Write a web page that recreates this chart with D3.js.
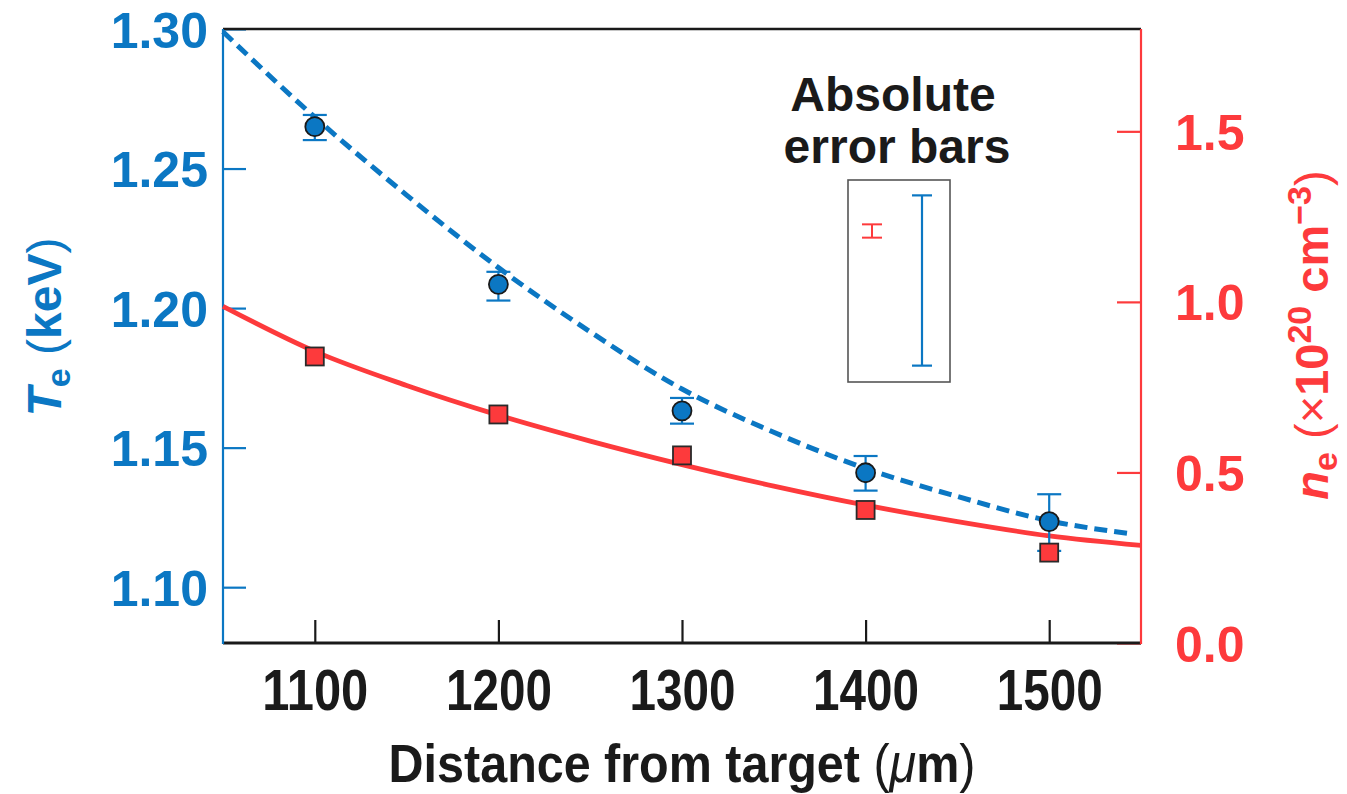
<!DOCTYPE html>
<html>
<head>
<meta charset="utf-8">
<script src="https://cdn.jsdelivr.net/npm/d3@7"></script>
<style>
  html, body { margin: 0; padding: 0; background: #fff; }
  svg { display: block; }
  text { font-family: "Liberation Sans", Arial, Helvetica, sans-serif; font-weight: bold; }
</style>
</head>
<body>
<svg id="chart" width="1347" height="794"></svg>
<script>
// Measured points at each distance from the target (µm)
const distances = [1100, 1200, 1300, 1400, 1500];
// Electron temperature Te (keV) with its error-bar ends
const teValues   = [1.265, 1.2085, 1.1632, 1.1410, 1.1235];
const teErrLow   = [1.2602, 1.2027, 1.1586, 1.1346, 1.1130];
const teErrHigh  = [1.2692, 1.2130, 1.1678, 1.1470, 1.1333];
// Electron density ne (×10^20 cm^-3)
const neValues   = [0.84, 0.67, 0.55, 0.39, 0.265];

// Fitted trends
const teFitDistances = [1050, 1100, 1150, 1200, 1250, 1300, 1350, 1400, 1450, 1500, 1546];
const teFit          = [1.299, 1.2684, 1.2405, 1.2145, 1.1915, 1.171, 1.1555, 1.1425, 1.1325, 1.1238, 1.1190];
const neFitDistances = [1050, 1100, 1150, 1200, 1250, 1300, 1350, 1400, 1450, 1500, 1550];
const neFit          = [0.987, 0.855, 0.755, 0.668, 0.592, 0.523, 0.46, 0.404, 0.356, 0.314, 0.286];

// Axis ticks
const xTicks  = [1100, 1200, 1300, 1400, 1500];
const teTicks = [1.10, 1.15, 1.20, 1.25, 1.30];
const neTicks = [0.0, 0.5, 1.0, 1.5];

// Absolute error bar sizes shown in the inset (half-widths)
const teAbsError = 0.0305;
const neAbsError = 0.0195;

const BLUE = "#0b77c3";
const RED = "#fd3a3c";

const svg = d3.select("#chart");
const plotLeft = 223, plotRight = 1141, plotTop = 29, plotBottom = 643;

const x = d3.scaleLinear().domain([1050, 1550]).range([plotLeft, plotRight]);
const yTe = d3.scaleLinear().domain([1.08, 1.30]).range([plotBottom, plotTop]);
const yNe = d3.scaleLinear().domain([0, 1.8]).range([plotBottom, plotTop]);

// Squeeze a text element horizontally to a target width (condensed look)
function condense(node, width) {
  const w = node.getComputedTextLength();
  if (w > 0) d3.select(node).attr("transform", `scale(${width / w},1)`);
}

// Axes with inward ticks
const gLeft = svg.append("g").attr("transform", `translate(${plotLeft},0)`)
  .call(d3.axisLeft(yTe).tickValues(teTicks).tickSize(-23).tickPadding(15).tickFormat(d3.format(".2f")));
gLeft.select(".domain").remove();
gLeft.selectAll(".tick line").attr("stroke", BLUE).attr("stroke-width", 2.2);
gLeft.selectAll(".tick text").attr("fill", BLUE).style("font-size", "50px").attr("dy", "0.36em");

const gRight = svg.append("g").attr("transform", `translate(${plotRight},0)`)
  .call(d3.axisRight(yNe).tickValues(neTicks).tickSize(-24).tickPadding(34).tickFormat(d3.format(".1f")));
gRight.select(".domain").remove();
gRight.selectAll(".tick line").attr("stroke", RED).attr("stroke-width", 2.2);
gRight.selectAll(".tick text").attr("fill", RED).style("font-size", "50px").attr("dy", "0.36em");

const gBottom = svg.append("g").attr("transform", `translate(0,${plotBottom})`)
  .call(d3.axisBottom(x).tickValues(xTicks).tickSize(-23).tickPadding(26).tickFormat(d3.format("d")));
gBottom.select(".domain").remove();
gBottom.selectAll(".tick line").attr("stroke", "#1a1a1a").attr("stroke-width", 2.2);
gBottom.selectAll(".tick text").attr("fill", "#1a1a1a").style("font-size", "58px")
  .each(function () { condense(this, 106); });

// Frame: black top/bottom, coloured side axes
svg.append("line").attr("x1", plotLeft).attr("x2", plotRight).attr("y1", plotTop).attr("y2", plotTop)
  .attr("stroke", "#1a1a1a").attr("stroke-width", 2.5);
svg.append("line").attr("x1", plotLeft).attr("x2", plotRight).attr("y1", plotBottom).attr("y2", plotBottom)
  .attr("stroke", "#1a1a1a").attr("stroke-width", 3);
svg.append("line").attr("x1", plotLeft).attr("x2", plotLeft).attr("y1", plotTop).attr("y2", plotBottom + 1)
  .attr("stroke", BLUE).attr("stroke-width", 2.2);
svg.append("line").attr("x1", plotRight).attr("x2", plotRight).attr("y1", plotTop).attr("y2", plotBottom + 1)
  .attr("stroke", RED).attr("stroke-width", 2.2);

// Fit curves
const teLine = d3.line().x((d, i) => x(teFitDistances[i])).y(d => yTe(d)).curve(d3.curveMonotoneX);
const neLine = d3.line().x((d, i) => x(neFitDistances[i])).y(d => yNe(d)).curve(d3.curveMonotoneX);

svg.append("path").attr("d", neLine(neFit))
  .attr("fill", "none").attr("stroke", RED).attr("stroke-width", 4.8);
svg.append("path").attr("d", teLine(teFit))
  .attr("fill", "none").attr("stroke", BLUE).attr("stroke-width", 5)
  .attr("stroke-dasharray", "13,7");

// Te error bars
const capHalf = 12;
const eb = svg.append("g").attr("stroke", BLUE).attr("stroke-width", 2.2);
distances.forEach((d, i) => {
  const cx = x(d);
  eb.append("line").attr("x1", cx).attr("x2", cx).attr("y1", yTe(teErrLow[i])).attr("y2", yTe(teErrHigh[i]));
  eb.append("line").attr("x1", cx - capHalf).attr("x2", cx + capHalf).attr("y1", yTe(teErrLow[i])).attr("y2", yTe(teErrLow[i]));
  eb.append("line").attr("x1", cx - capHalf).attr("x2", cx + capHalf).attr("y1", yTe(teErrHigh[i])).attr("y2", yTe(teErrHigh[i]));
});

// ne squares
const sq = 18;
svg.append("g").selectAll("rect").data(neValues).join("rect")
  .attr("x", (d, i) => x(distances[i]) - sq / 2)
  .attr("y", d => yNe(d) - sq / 2)
  .attr("width", sq).attr("height", sq)
  .attr("fill", RED).attr("stroke", "#2a2a2a").attr("stroke-width", 1.8);

// Te circles
svg.append("g").selectAll("circle").data(teValues).join("circle")
  .attr("cx", (d, i) => x(distances[i]))
  .attr("cy", d => yTe(d))
  .attr("r", 9.5)
  .attr("fill", BLUE).attr("stroke", "#1a1a1a").attr("stroke-width", 1.8);

// Inset with absolute error bars
const inset = svg.append("g");
inset.append("text").attr("x", 893).attr("y", 111).attr("text-anchor", "middle")
  .attr("fill", "#1a1a1a").style("font-size", "48px").text("Absolute");
inset.append("text").attr("x", 897).attr("y", 163).attr("text-anchor", "middle")
  .attr("fill", "#1a1a1a").style("font-size", "48px").text("error bars");
inset.append("rect").attr("x", 848).attr("y", 180).attr("width", 102).attr("height", 202)
  .attr("fill", "none").attr("stroke", "#555").attr("stroke-width", 1.6);

function insetBar(cx, cy, halfPx, color, width) {
  const g = inset.append("g").attr("stroke", color).attr("stroke-width", width);
  g.append("line").attr("x1", cx).attr("x2", cx).attr("y1", cy - halfPx).attr("y2", cy + halfPx);
  g.append("line").attr("x1", cx - 10).attr("x2", cx + 10).attr("y1", cy - halfPx).attr("y2", cy - halfPx);
  g.append("line").attr("x1", cx - 10).attr("x2", cx + 10).attr("y1", cy + halfPx).attr("y2", cy + halfPx);
}
insetBar(922, 280.5, yTe(1.2) - yTe(1.2 + teAbsError), BLUE, 2.2);
insetBar(872, 231, yNe(1.0) - yNe(1.0 + neAbsError), RED, 2);

// Axis titles
const teTitle = svg.append("text")
  .attr("transform", `translate(61,${327}) rotate(-90)`)
  .attr("text-anchor", "middle").attr("fill", BLUE).style("font-size", "48px");
teTitle.append("tspan").style("font-style", "italic").text("T");
teTitle.append("tspan").attr("dy", 9).style("font-size", "34px").text("e");
teTitle.append("tspan").attr("dy", -9).text(" ");
teTitle.append("tspan").style("font-weight", "normal").text("(");
teTitle.append("tspan").text("keV");
teTitle.append("tspan").style("font-weight", "normal").text(")");

const neTitle = svg.append("text")
  .attr("transform", `translate(1328,${335}) rotate(-90)`)
  .attr("text-anchor", "middle").attr("fill", RED).style("font-size", "47px");
neTitle.append("tspan").style("font-style", "italic").text("n");
neTitle.append("tspan").attr("dy", 9).style("font-size", "34px").text("e");
neTitle.append("tspan").attr("dy", -9).text(" ");
neTitle.append("tspan").style("font-weight", "normal").text("(×");
neTitle.append("tspan").text("10");
neTitle.append("tspan").attr("dy", -17).style("font-size", "34px").text("20");
neTitle.append("tspan").attr("dy", 17).text(" cm");
neTitle.append("tspan").attr("dy", -17).style("font-size", "34px").text("−3");
neTitle.append("tspan").attr("dy", 17).style("font-weight", "normal").text(")");

// x-axis title, condensed to its measured width
const xTitleG = svg.append("g").attr("transform", `translate(${(plotLeft + plotRight) / 2},782)`);
const xTitle = xTitleG.append("text").attr("x", 0).attr("y", 0).attr("text-anchor", "middle")
  .attr("fill", "#1a1a1a").style("font-size", "54px");
xTitle.append("tspan").text("Distance from target ");
xTitle.append("tspan").style("font-weight", "normal").text("(");
xTitle.append("tspan").style("font-style", "italic").style("font-weight", "normal").text("μ");
xTitle.append("tspan").text("m");
xTitle.append("tspan").style("font-weight", "normal").text(")");
condense(xTitle.node(), 587);
</script>
</body>
</html>
